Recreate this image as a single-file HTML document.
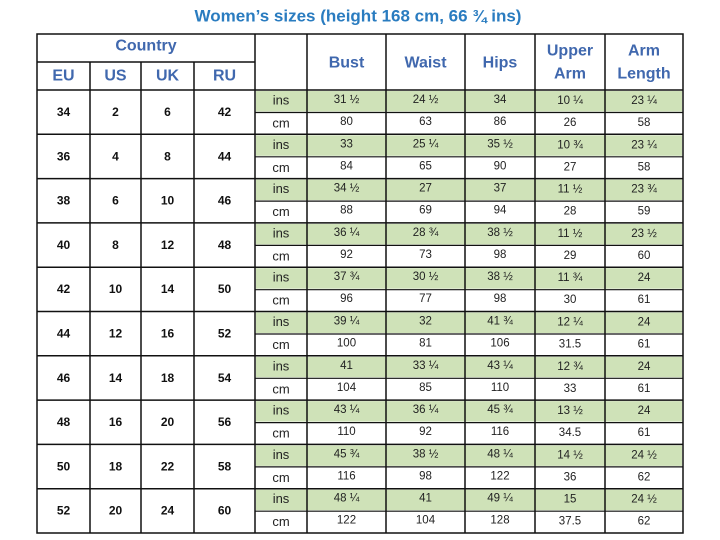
<!DOCTYPE html>
<html><head><meta charset="utf-8"><style>
html,body{margin:0;padding:0;background:#fff;width:720px;height:540px;overflow:hidden}
svg{display:block}
text{font-family:"Liberation Sans",sans-serif;text-anchor:middle;dominant-baseline:central}
.h{fill:#4068ae;font-size:16px;font-weight:bold}
.b{font-weight:bold;font-size:12px;fill:#111}
.l{font-size:13px;fill:#222}
.d{font-size:11.5px;fill:#222}
</style></head><body>
<svg width="720" height="540" viewBox="0 0 720 540">
<text x="358" y="16" style="fill:#2a7cc0;font-size:17px;font-weight:bold">Women’s sizes (height 168 cm, 66 ¾ ins)</text>
<defs>
<g id="grn">
<rect x="256" y="1" width="426" height="20.5" fill="#cfe2b8"/>
</g>
</defs>
<g>
<use href="#grn" transform="translate(0,90)"/>
<use href="#grn" transform="translate(0,134.3)"/>
<use href="#grn" transform="translate(0,178.6)"/>
<use href="#grn" transform="translate(0,222.9)"/>
<use href="#grn" transform="translate(0,267.2)"/>
<use href="#grn" transform="translate(0,311.5)"/>
<use href="#grn" transform="translate(0,355.8)"/>
<use href="#grn" transform="translate(0,400.1)"/>
<use href="#grn" transform="translate(0,444.4)"/>
<use href="#grn" transform="translate(0,488.7)"/>
</g>
<g stroke="#111" stroke-width="1.5" fill="none">
<rect x="37" y="34" width="646" height="499"/>
<line x1="37" y1="62" x2="255" y2="62"/>
<line x1="37" y1="90" x2="683" y2="90"/>
<line x1="90" y1="62" x2="90" y2="533"/>
<line x1="141" y1="62" x2="141" y2="533"/>
<line x1="194" y1="62" x2="194" y2="533"/>
<line x1="255" y1="34" x2="255" y2="533"/>
<line x1="307" y1="34" x2="307" y2="533"/>
<line x1="386" y1="34" x2="386" y2="533"/>
<line x1="465" y1="34" x2="465" y2="533"/>
<line x1="535" y1="34" x2="535" y2="533"/>
<line x1="605" y1="34" x2="605" y2="533"/>
<line x1="37" y1="134.3" x2="683" y2="134.3"/>
<line x1="37" y1="178.6" x2="683" y2="178.6"/>
<line x1="37" y1="222.9" x2="683" y2="222.9"/>
<line x1="37" y1="267.2" x2="683" y2="267.2"/>
<line x1="37" y1="311.5" x2="683" y2="311.5"/>
<line x1="37" y1="355.8" x2="683" y2="355.8"/>
<line x1="37" y1="400.1" x2="683" y2="400.1"/>
<line x1="37" y1="444.4" x2="683" y2="444.4"/>
<line x1="37" y1="488.7" x2="683" y2="488.7"/>
</g>
<g stroke="#111" stroke-width="1.2">
<line x1="255" y1="112.5" x2="683" y2="112.5"/>
<line x1="255" y1="156.8" x2="683" y2="156.8"/>
<line x1="255" y1="201.1" x2="683" y2="201.1"/>
<line x1="255" y1="245.4" x2="683" y2="245.4"/>
<line x1="255" y1="289.7" x2="683" y2="289.7"/>
<line x1="255" y1="334" x2="683" y2="334"/>
<line x1="255" y1="378.3" x2="683" y2="378.3"/>
<line x1="255" y1="422.6" x2="683" y2="422.6"/>
<line x1="255" y1="466.9" x2="683" y2="466.9"/>
<line x1="255" y1="511.2" x2="683" y2="511.2"/>
</g>
<text class="h" x="146" y="46">Country</text>
<text class="h" x="63.5" y="76">EU</text>
<text class="h" x="115.5" y="76">US</text>
<text class="h" x="167.5" y="76">UK</text>
<text class="h" x="224.5" y="76">RU</text>
<text class="h" x="346.5" y="63">Bust</text>
<text class="h" x="425.5" y="63">Waist</text>
<text class="h" x="500" y="63">Hips</text>
<text class="h" x="570" y="51">Upper</text>
<text class="h" x="570" y="74">Arm</text>
<text class="h" x="644" y="51">Arm</text>
<text class="h" x="644" y="74">Length</text>

<g transform="translate(0,90)">
<text class="b" x="63.5" y="22">34</text><text class="b" x="115.5" y="22">2</text><text class="b" x="167.5" y="22">6</text><text class="b" x="224.5" y="22">42</text>
<text class="l" x="281" y="10">ins</text><text class="d" x="346.5" y="10">31 ½</text><text class="d" x="425.5" y="10">24 ½</text><text class="d" x="500" y="10">34</text><text class="d" x="570" y="11">10 ¼</text><text class="d" x="644" y="11">23 ¼</text>
<text class="l" x="281" y="33">cm</text><text class="d" x="346.5" y="32">80</text><text class="d" x="425.5" y="32">63</text><text class="d" x="500" y="32">86</text><text class="d" x="570" y="33">26</text><text class="d" x="644" y="33">58</text>
</g>
<g transform="translate(0,134.3)">
<text class="b" x="63.5" y="22">36</text><text class="b" x="115.5" y="22">4</text><text class="b" x="167.5" y="22">8</text><text class="b" x="224.5" y="22">44</text>
<text class="l" x="281" y="10">ins</text><text class="d" x="346.5" y="10">33</text><text class="d" x="425.5" y="10">25 ¼</text><text class="d" x="500" y="10">35 ½</text><text class="d" x="570" y="11">10 ¾</text><text class="d" x="644" y="11">23 ¼</text>
<text class="l" x="281" y="33">cm</text><text class="d" x="346.5" y="32">84</text><text class="d" x="425.5" y="32">65</text><text class="d" x="500" y="32">90</text><text class="d" x="570" y="33">27</text><text class="d" x="644" y="33">58</text>
</g>
<g transform="translate(0,178.6)">
<text class="b" x="63.5" y="22">38</text><text class="b" x="115.5" y="22">6</text><text class="b" x="167.5" y="22">10</text><text class="b" x="224.5" y="22">46</text>
<text class="l" x="281" y="10">ins</text><text class="d" x="346.5" y="10">34 ½</text><text class="d" x="425.5" y="10">27</text><text class="d" x="500" y="10">37</text><text class="d" x="570" y="11">11 ½</text><text class="d" x="644" y="11">23 ¾</text>
<text class="l" x="281" y="33">cm</text><text class="d" x="346.5" y="32">88</text><text class="d" x="425.5" y="32">69</text><text class="d" x="500" y="32">94</text><text class="d" x="570" y="33">28</text><text class="d" x="644" y="33">59</text>
</g>
<g transform="translate(0,222.9)">
<text class="b" x="63.5" y="22">40</text><text class="b" x="115.5" y="22">8</text><text class="b" x="167.5" y="22">12</text><text class="b" x="224.5" y="22">48</text>
<text class="l" x="281" y="10">ins</text><text class="d" x="346.5" y="10">36 ¼</text><text class="d" x="425.5" y="10">28 ¾</text><text class="d" x="500" y="10">38 ½</text><text class="d" x="570" y="11">11 ½</text><text class="d" x="644" y="11">23 ½</text>
<text class="l" x="281" y="33">cm</text><text class="d" x="346.5" y="32">92</text><text class="d" x="425.5" y="32">73</text><text class="d" x="500" y="32">98</text><text class="d" x="570" y="33">29</text><text class="d" x="644" y="33">60</text>
</g>
<g transform="translate(0,267.2)">
<text class="b" x="63.5" y="22">42</text><text class="b" x="115.5" y="22">10</text><text class="b" x="167.5" y="22">14</text><text class="b" x="224.5" y="22">50</text>
<text class="l" x="281" y="10">ins</text><text class="d" x="346.5" y="10">37 ¾</text><text class="d" x="425.5" y="10">30 ½</text><text class="d" x="500" y="10">38 ½</text><text class="d" x="570" y="11">11 ¾</text><text class="d" x="644" y="11">24</text>
<text class="l" x="281" y="33">cm</text><text class="d" x="346.5" y="32">96</text><text class="d" x="425.5" y="32">77</text><text class="d" x="500" y="32">98</text><text class="d" x="570" y="33">30</text><text class="d" x="644" y="33">61</text>
</g>
<g transform="translate(0,311.5)">
<text class="b" x="63.5" y="22">44</text><text class="b" x="115.5" y="22">12</text><text class="b" x="167.5" y="22">16</text><text class="b" x="224.5" y="22">52</text>
<text class="l" x="281" y="10">ins</text><text class="d" x="346.5" y="10">39 ¼</text><text class="d" x="425.5" y="10">32</text><text class="d" x="500" y="10">41 ¾</text><text class="d" x="570" y="11">12 ¼</text><text class="d" x="644" y="11">24</text>
<text class="l" x="281" y="33">cm</text><text class="d" x="346.5" y="32">100</text><text class="d" x="425.5" y="32">81</text><text class="d" x="500" y="32">106</text><text class="d" x="570" y="33">31.5</text><text class="d" x="644" y="33">61</text>
</g>
<g transform="translate(0,355.8)">
<text class="b" x="63.5" y="22">46</text><text class="b" x="115.5" y="22">14</text><text class="b" x="167.5" y="22">18</text><text class="b" x="224.5" y="22">54</text>
<text class="l" x="281" y="10">ins</text><text class="d" x="346.5" y="10">41</text><text class="d" x="425.5" y="10">33 ¼</text><text class="d" x="500" y="10">43 ¼</text><text class="d" x="570" y="11">12 ¾</text><text class="d" x="644" y="11">24</text>
<text class="l" x="281" y="33">cm</text><text class="d" x="346.5" y="32">104</text><text class="d" x="425.5" y="32">85</text><text class="d" x="500" y="32">110</text><text class="d" x="570" y="33">33</text><text class="d" x="644" y="33">61</text>
</g>
<g transform="translate(0,400.1)">
<text class="b" x="63.5" y="22">48</text><text class="b" x="115.5" y="22">16</text><text class="b" x="167.5" y="22">20</text><text class="b" x="224.5" y="22">56</text>
<text class="l" x="281" y="10">ins</text><text class="d" x="346.5" y="10">43 ¼</text><text class="d" x="425.5" y="10">36 ¼</text><text class="d" x="500" y="10">45 ¾</text><text class="d" x="570" y="11">13 ½</text><text class="d" x="644" y="11">24</text>
<text class="l" x="281" y="33">cm</text><text class="d" x="346.5" y="32">110</text><text class="d" x="425.5" y="32">92</text><text class="d" x="500" y="32">116</text><text class="d" x="570" y="33">34.5</text><text class="d" x="644" y="33">61</text>
</g>
<g transform="translate(0,444.4)">
<text class="b" x="63.5" y="22">50</text><text class="b" x="115.5" y="22">18</text><text class="b" x="167.5" y="22">22</text><text class="b" x="224.5" y="22">58</text>
<text class="l" x="281" y="10">ins</text><text class="d" x="346.5" y="10">45 ¾</text><text class="d" x="425.5" y="10">38 ½</text><text class="d" x="500" y="10">48 ¼</text><text class="d" x="570" y="11">14 ½</text><text class="d" x="644" y="11">24 ½</text>
<text class="l" x="281" y="33">cm</text><text class="d" x="346.5" y="32">116</text><text class="d" x="425.5" y="32">98</text><text class="d" x="500" y="32">122</text><text class="d" x="570" y="33">36</text><text class="d" x="644" y="33">62</text>
</g>
<g transform="translate(0,488.7)">
<text class="b" x="63.5" y="22">52</text><text class="b" x="115.5" y="22">20</text><text class="b" x="167.5" y="22">24</text><text class="b" x="224.5" y="22">60</text>
<text class="l" x="281" y="10">ins</text><text class="d" x="346.5" y="10">48 ¼</text><text class="d" x="425.5" y="10">41</text><text class="d" x="500" y="10">49 ¼</text><text class="d" x="570" y="11">15</text><text class="d" x="644" y="11">24 ½</text>
<text class="l" x="281" y="33">cm</text><text class="d" x="346.5" y="32">122</text><text class="d" x="425.5" y="32">104</text><text class="d" x="500" y="32">128</text><text class="d" x="570" y="33">37.5</text><text class="d" x="644" y="33">62</text>
</g>
</svg>
</body></html>
